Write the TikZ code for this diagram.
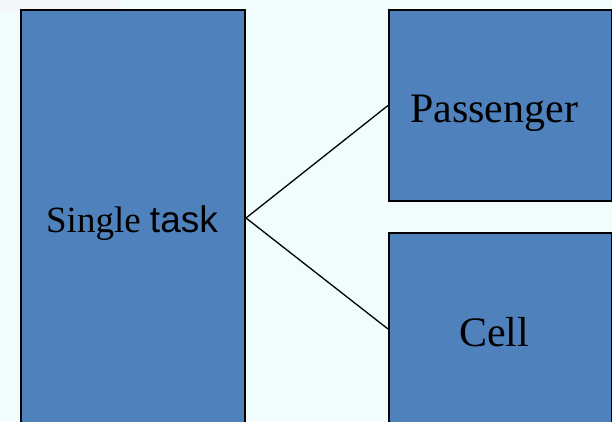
\documentclass[tikz,border=0pt]{standalone}
\usepackage{fontspec}
\setmainfont{Liberation Serif}
\newfontfamily\arialfont{Liberation Sans}
\definecolor{bg}{HTML}{F1FCFC}
\definecolor{boxblue}{HTML}{4F81BD}
\begin{document}
\begin{tikzpicture}[x=1pt,y=-1pt,
  box/.style={draw=black,line width=2pt,fill=boxblue,rectangle,inner sep=0pt,anchor=north west},
  lbl/.style={inner sep=0pt,anchor=base,font=\fontsize{42}{46}\selectfont},
  link/.style={draw=black,line width=1.3pt}]
\useasboundingbox (0,0) rectangle (612,421);
\fill[bg] (0,0) rectangle (612,421);
\fill[gray!8,opacity=0.6] (0,0) rectangle (120,12);
\clip (0,0) rectangle (612,421);
\node[box,minimum width=224pt,minimum height=416pt] (single) at (20,9) {};
\node[box,minimum width=223pt,minimum height=191pt] (pass) at (388,9) {};
\node[box,minimum width=223pt,minimum height=192pt] (cell) at (388,232) {};
\draw[link] (single.east) -- (pass.west);
\draw[link] (single.east) -- (cell.west);
\node[lbl,font=\fontsize{37}{40}\selectfont] (tsingle) at (132,232) {Single {\arialfont task}};
\node[lbl] (tpass) at (494,122) {Passenger};
\node[lbl] (tcell) at (494,346) {Cell};
\end{tikzpicture}
\end{document}
